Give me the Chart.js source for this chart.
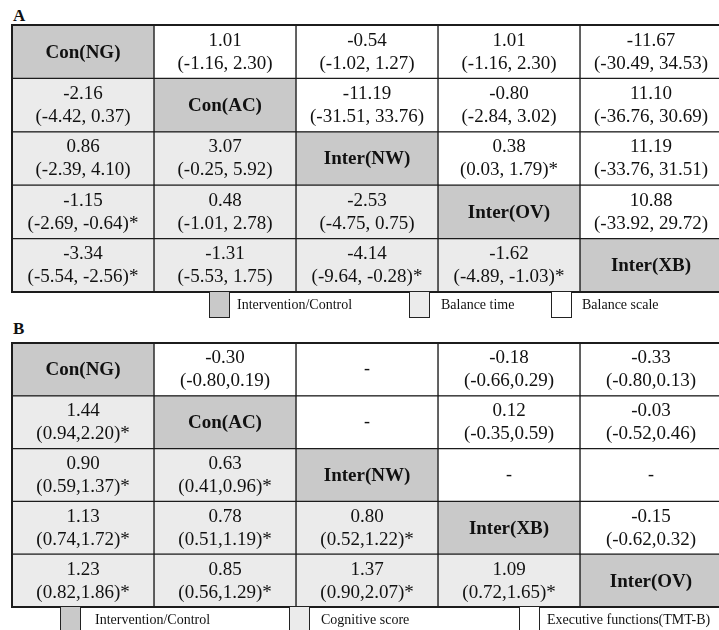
<!DOCTYPE html>
<html><head><meta charset="utf-8">
<script src="https://cdn.jsdelivr.net/npm/chart.js@4.4.1/dist/chart.umd.min.js"></script>
<style>
html,body{margin:0;padding:0;background:#fff;width:719px;height:630px;overflow:hidden;position:relative;font-family:'Liberation Serif',serif;color:#111;}
.wrap{position:absolute;left:0;width:724px;}
.lbl{position:absolute;font-weight:bold;font-size:17px;line-height:1;}
.box{position:absolute;border:1.5px solid #222;box-sizing:border-box;width:21px;}
.lt{position:absolute;font-size:14px;line-height:1;white-space:nowrap;}
</style></head><body>
<div class="lbl" style="left:13px;top:7px;">A</div>
<div class="wrap" style="top:0;height:300px;"><canvas id="cA" width="724" height="300"></canvas></div>
<div class="lbl" style="left:13px;top:320px;">B</div>
<div class="wrap" style="top:300px;height:310px;"><canvas id="cB" width="724" height="310"></canvas></div>

<div class="box" style="left:209px;top:291px;height:27px;background:#c9c9c9;"></div>
<div class="lt" style="left:237px;top:298px;">Intervention/Control</div>
<div class="box" style="left:409px;top:291px;height:27px;background:#ebebeb;"></div>
<div class="lt" style="left:441px;top:298px;">Balance time</div>
<div class="box" style="left:551px;top:291px;height:27px;background:#fff;"></div>
<div class="lt" style="left:582px;top:298px;">Balance scale</div>

<div class="box" style="left:60px;top:606px;height:30px;background:#c9c9c9;"></div>
<div class="lt" style="left:95px;top:613px;">Intervention/Control</div>
<div class="box" style="left:289px;top:606px;height:30px;background:#ebebeb;"></div>
<div class="lt" style="left:321px;top:613px;">Cognitive score</div>
<div class="box" style="left:519px;top:606px;height:30px;background:#fff;"></div>
<div class="lt" style="left:547px;top:613px;">Executive functions(TMT-B)</div>

<script>
// ---------- data ----------
const rowIds = ['r1','r2','r3','r4','r5'];
const cellSpan = [1,1,1,1,1];

const namesA = ['Con(NG)','Con(AC)','Inter(NW)','Inter(OV)','Inter(XB)'];
const estA  = [[null,1.01,-0.54,1.01,-11.67],[-2.16,null,-11.19,-0.80,11.10],[0.86,3.07,null,0.38,11.19],[-1.15,0.48,-2.53,null,10.88],[-3.34,-1.31,-4.14,-1.62,null]];
const lowA  = [[null,-1.16,-1.02,-1.16,-30.49],[-4.42,null,-31.51,-2.84,-36.76],[-2.39,-0.25,null,0.03,-33.76],[-2.69,-1.01,-4.75,null,-33.92],[-5.54,-5.53,-9.64,-4.89,null]];
const highA = [[null,2.30,1.27,2.30,34.53],[0.37,null,33.76,3.02,30.69],[4.10,5.92,null,1.79,31.51],[-0.64,2.78,0.75,null,29.72],[-2.56,1.75,-0.28,-1.03,null]];
const sigA  = [[0,0,0,0,0],[0,0,0,0,0],[0,0,0,1,0],[1,0,0,0,0],[1,0,1,1,0]];

const namesB = ['Con(NG)','Con(AC)','Inter(NW)','Inter(XB)','Inter(OV)'];
const estB  = [[null,-0.30,null,-0.18,-0.33],[1.44,null,null,0.12,-0.03],[0.90,0.63,null,null,null],[1.13,0.78,0.80,null,-0.15],[1.23,0.85,1.37,1.09,null]];
const lowB  = [[null,-0.80,null,-0.66,-0.80],[0.94,null,null,-0.35,-0.52],[0.59,0.41,null,null,null],[0.74,0.51,0.52,null,-0.62],[0.82,0.56,0.90,0.72,null]];
const highB = [[null,0.19,null,0.29,0.13],[2.20,null,null,0.59,0.46],[1.37,0.96,null,null,null],[1.72,1.19,1.22,null,0.32],[1.86,1.29,2.07,1.65,null]];
const sigB  = [[0,0,0,0,0],[1,0,0,0,0],[1,1,0,0,0],[1,1,1,0,0],[1,1,1,1,0]];

// ---------- drawing ----------
const DIAG='#c9c9c9', LOWER='#ebebeb', UPPER='#ffffff', LINE='#1c1c1c';
const fmt = v => v.toFixed(2);

const cellText = {
  id:'cellText',
  afterDatasetsDraw(chart){
    const t = chart.options.plugins.cellText;
    const ctx = chart.ctx;
    ctx.save();
    ctx.fillStyle='#111'; ctx.textAlign='center'; ctx.textBaseline='middle';
    chart.data.datasets.forEach((ds,j)=>{
      chart.getDatasetMeta(j).data.forEach((el,i)=>{
        const cx=(el.x+el.base)/2, cy=el.y;
        if(i===j){
          ctx.font='bold 19px "Liberation Serif"';
          ctx.fillText(t.names[i],cx,cy+1);
        } else if(t.est[i][j]==null){
          ctx.font='18px "Liberation Serif"';
          ctx.fillText('-',cx,cy);
        } else {
          ctx.font='19px "Liberation Serif"';
          ctx.fillText(fmt(t.est[i][j]),cx,cy-11);
          ctx.fillText('('+fmt(t.low[i][j])+t.sep+fmt(t.high[i][j])+')'+(t.sig[i][j]?'*':''),cx,cy+12);
        }
      });
    });
    const a=chart.chartArea;
    ctx.strokeStyle=LINE; ctx.lineWidth=2;
    ctx.strokeRect(a.left,a.top,a.right-a.left,a.bottom-a.top);
    ctx.restore();
  }
};

function makeChart(id, names, est, low, high, sig, sep, pad){
  const datasets = names.map((n,j)=>({
    label:'col'+j,
    data:cellSpan,
    backgroundColor:rowIds.map((r,i)=> i===j?DIAG:(i>j?LOWER:UPPER)),
    borderColor:LINE,
    borderWidth:1,
    borderSkipped:false,
    barPercentage:1,
    categoryPercentage:1
  }));
  return new Chart(document.getElementById(id),{
    type:'bar',
    data:{labels:rowIds,datasets},
    options:{
      indexAxis:'y',
      responsive:false,
      animation:false,
      events:[],
      layout:{padding:pad},
      scales:{
        x:{display:false,stacked:true,min:0,max:5},
        y:{display:false,stacked:true}
      },
      plugins:{
        legend:{display:false},
        tooltip:{enabled:false},
        cellText:{names,est,low,high,sig,sep}
      }
    },
    plugins:[cellText]
  });
}

makeChart('cA',namesA,estA,lowA,highA,sigA,', ',{left:12,top:25,right:2,bottom:8});
makeChart('cB',namesB,estB,lowB,highB,sigB,',',{left:12,top:43,right:2,bottom:3});
</script>
</body></html>
